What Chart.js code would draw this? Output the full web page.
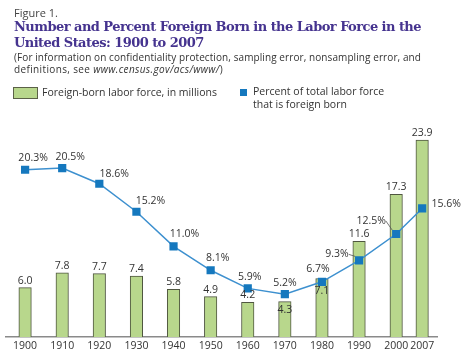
<!DOCTYPE html>
<html>
<head>
<meta charset="utf-8">
<script src="https://cdn.jsdelivr.net/npm/chart.js@4/dist/chart.umd.min.js"></script>
<style>
  html, body { margin: 0; padding: 0; background: #fff; }
  #wrap { position: relative; width: 465px; height: 355px; overflow: hidden; }
  #c { position: absolute; left: 0; top: 0; }
  .t { position: absolute; white-space: nowrap; font-family: "Open Sans", "DejaVu Sans", sans-serif; color: #3a3a3a; }
  #fig { left: 14px; top: 5px; font-size: 11px; color: #444; }
  .title { left: 14px; font-family: "DejaVu Serif", serif; font-weight: bold; font-size: 13px; color: #45338f; }
  #t1 { top: 19px; }
  #t2 { top: 35px; }
  .sub { left: 14px; font-size: 10px; color: #333; }
  #s1 { top: 50px; }
  #s2 { top: 62px; }
  .leg { font-size: 10.5px; color: #333; }
  #lbox { position: absolute; left: 13px; top: 87px; width: 23px; height: 10px; background: #b8d78c; border: 1px solid #5b6147; }
  #lsq { position: absolute; left: 240px; top: 89px; width: 7px; height: 7px; background: #1578be; }
</style>
</head>
<body>
<div id="wrap">
  <canvas id="c" width="465" height="355"></canvas>
  <div class="t" id="fig">Figure 1.</div>
  <div class="t title" id="t1">Number and Percent Foreign Born in the Labor Force in the</div>
  <div class="t title" id="t2">United States: 1900 to 2007</div>
  <div class="t sub" id="s1">(For information on confidentiality protection, sampling error, nonsampling error, and</div>
  <div class="t sub" id="s2">definitions, see <i>www.census.gov/acs/www/</i>)</div>
  <div id="lbox"></div>
  <div class="t leg" style="left:42px; top:85px;">Foreign-born labor force, in millions</div>
  <div id="lsq"></div>
  <div class="t leg" style="left:253px; top:85px; line-height:12.5px;">Percent of total labor force<br>that is foreign born</div>
</div>
<script>
// ---- data ----
const years = [1900, 1910, 1920, 1930, 1940, 1950, 1960, 1970, 1980, 1990, 2000, 2007];
const laborMillions = [6.0, 7.8, 7.7, 7.4, 5.8, 4.9, 4.2, 4.3, 7.1, 11.6, 17.3, 23.9];
const percentForeign = [20.3, 20.5, 18.6, 15.2, 11.0, 8.1, 5.9, 5.2, 6.7, 9.3, 12.5, 15.6];
const barLabels = ['6.0', '7.8', '7.7', '7.4', '5.8', '4.9', '4.2', '4.3', '7.1', '11.6', '17.3', '23.9'];
const pctLabels = ['20.3%', '20.5%', '18.6%', '15.2%', '11.0%', '8.1%', '5.9%', '5.2%', '6.7%', '9.3%', '12.5%', '15.6%'];

// fit title/subtitle widths to reference
function fitWidth(id, target, alsoIds) {
  const el = document.getElementById(id);
  const w = el.getBoundingClientRect().width;
  const n = el.textContent.length;
  const ls = ((target - w) / n) + 'px';
  el.style.letterSpacing = ls;
  (alsoIds || []).forEach(o => { document.getElementById(o).style.letterSpacing = ls; });
}
fitWidth('t1', 407, ['t2']);
fitWidth('s1', 407);
fitWidth('s2', 209);

// label placement (offsets of label center from mark)
const pctOffsets = [[8,-12],[8,-11],[15,-10],[14,-11],[11,-12],[7,-12],[2,-11],[0,-11],[-4,-13],[-22,-6],[-25,-13],[24,-4]];
const leaderIdx = [9, 10];
const barInside = {7: 8, 8: 13};

const labelPlugin = {
  id: 'labels',
  afterDatasetsDraw(chart) {
    const ctx = chart.ctx;
    ctx.save();
    ctx.font = '10.5px "Open Sans", "DejaVu Sans", sans-serif';
    ctx.fillStyle = '#333';
    ctx.textAlign = 'center';
    ctx.textBaseline = 'middle';
    const barMeta = chart.getDatasetMeta(1);
    barMeta.data.forEach((el, i) => {
      const y = barInside[i] !== undefined ? el.y + barInside[i] : el.y - 7;
      ctx.fillText(barLabels[i], el.x, y);
    });
    const lineMeta = chart.getDatasetMeta(0);
    lineMeta.data.forEach((el, i) => {
      const [dx, dy] = pctOffsets[i];
      const tx = el.x + dx, ty = el.y + dy;
      ctx.fillText(pctLabels[i], tx, ty);
      if (leaderIdx.includes(i)) {
        const w = ctx.measureText(pctLabels[i]).width;
        ctx.strokeStyle = '#555';
        ctx.lineWidth = 0.8;
        ctx.beginPath();
        ctx.moveTo(tx + w / 2, ty);
        ctx.lineTo(el.x - 4, el.y - 4);
        ctx.stroke();
      }
    });
    ctx.restore();
  }
};

new Chart(document.getElementById('c'), {
  type: 'bar',
  data: {
    datasets: [
      {
        type: 'line',
        label: 'Percent of total labor force that is foreign born',
        data: years.map((y, i) => ({ x: y, y: percentForeign[i] })),
        yAxisID: 'y2',
        borderColor: '#3d90cf',
        borderWidth: 1.5,
        pointStyle: 'rect',
        pointRadius: 5.8,
        pointBackgroundColor: '#1578be',
        pointBorderColor: '#1578be',
        pointBorderWidth: 0,
        tension: 0,
        order: 0
      },
      {
        label: 'Foreign-born labor force, in millions',
        data: years.map((y, i) => ({ x: y, y: laborMillions[i] })),
        yAxisID: 'y',
        backgroundColor: '#b8d78c',
        borderColor: '#4f5640',
        borderWidth: 1,
        borderSkipped: 'bottom',
        barThickness: 12.5,
        order: 1
      }
    ]
  },
  options: {
    responsive: false,
    animation: false,
    devicePixelRatio: 1,
    layout: { padding: { top: 131, left: 0, right: 28, bottom: 0 } },
    plugins: { legend: { display: false }, tooltip: { enabled: false } },
    scales: {
      x: {
        type: 'linear',
        offset: false,
        min: 1894.8,
        max: 2011,
        afterBuildTicks(scale) { scale.ticks = years.map(v => ({ value: v })); },
        afterFit(scale) { scale.height = 18; },
        grid: { display: false, drawTicks: false },
        border: { display: true, color: '#8a8a8a', width: 1.5 },
        ticks: {
          padding: 3,
          maxRotation: 0,
          autoSkip: false,
          color: '#333',
          font: { family: '"Open Sans", "DejaVu Sans", sans-serif', size: 10.5 },
          callback: v => String(v)
        }
      },
      y: { display: false, min: 0, max: 25 },
      y2: { display: false, min: 0, max: 25 }
    }
  },
  plugins: [labelPlugin]
});
</script>
</body>
</html>
